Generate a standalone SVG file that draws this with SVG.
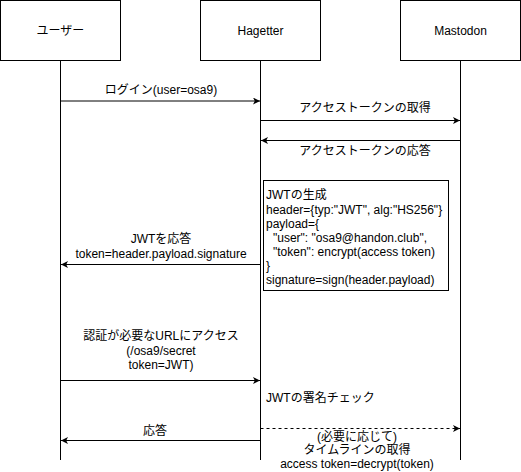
<svg xmlns="http://www.w3.org/2000/svg" width="521" height="472" viewBox="0 0 521 472">
<defs>
<style>
text{font-family:"Liberation Sans","Noto Sans CJK JP",sans-serif;font-size:12px;fill:#000}
.c{text-anchor:middle}
.box{fill:#fff;stroke:#000;stroke-width:1}
.life{stroke:#000;stroke-width:1;fill:none}
.msg{stroke:#000;stroke-width:1;fill:none;marker-end:url(#ah)}
.dash{stroke-dasharray:3 3}
</style>
<marker id="ah" markerWidth="8" markerHeight="8" refX="7" refY="3.5" orient="auto" markerUnits="userSpaceOnUse">
<path d="M0,0 L7,3.5 L0,7 L1.8,3.5 z" fill="#000"/>
</marker>
</defs>
<g id="user">
<rect class="box" x="0.5" y="0.5" width="120" height="60"/>
<text class="c" x="60.5" y="35">ユーザー</text>
<line class="life" x1="60.5" y1="60.5" x2="60.5" y2="460"/>
</g>
<g id="hagetter">
<rect class="box" x="200.5" y="0.5" width="120" height="60"/>
<text class="c" x="260.5" y="35">Hagetter</text>
<line class="life" x1="260.5" y1="60.5" x2="260.5" y2="460"/>
</g>
<g id="mastodon">
<rect class="box" x="400.5" y="0.5" width="120" height="60"/>
<text class="c" x="460.5" y="35">Mastodon</text>
<line class="life" x1="460.5" y1="60.5" x2="460.5" y2="460"/>
</g>
<g id="jwt-box">
<rect class="box" x="263.5" y="180.5" width="185" height="110"/>
<text x="266" y="199">JWTの生成</text>
<text x="266" y="213.5">header={typ:"JWT", alg:"HS256"}</text>
<text x="266" y="228">payload={</text>
<text x="273" y="242">"user": "osa9@handon.club",</text>
<text x="273" y="256">"token": encrypt(access token)</text>
<text x="266" y="270">}</text>
<text x="266" y="284">signature=sign(header.payload)</text>
</g>
<g id="connectors">
<line class="msg" x1="60.5" y1="101" x2="260" y2="101"/>
<line class="msg" x1="260.5" y1="120.5" x2="460" y2="120.5"/>
<line class="msg" x1="460.5" y1="140.5" x2="261" y2="140.5"/>
<line class="msg" x1="260.5" y1="264.5" x2="61" y2="264.5"/>
<line class="msg" x1="60.5" y1="380.5" x2="260" y2="380.5"/>
<line class="msg dash" x1="260.5" y1="428.5" x2="460" y2="428.5"/>
<line class="msg" x1="260.5" y1="440.5" x2="61" y2="440.5"/>
</g>
<g id="labels">
<text class="c" x="161" y="94">ログイン(user=osa9)</text>
<text class="c" x="365" y="112">アクセストークンの取得</text>
<text class="c" x="365" y="155">アクセストークンの応答</text>
<text class="c" x="161" y="243">JWTを応答</text>
<text class="c" x="161" y="258">token=header.payload.signature</text>
<text class="c" x="161" y="340">認証が必要なURLにアクセス</text>
<text class="c" x="161" y="355">(/osa9/secret</text>
<text class="c" x="161" y="369">token=JWT)</text>
<text x="266" y="402">JWTの署名チェック</text>
<text class="c" x="155" y="435">応答</text>
<text class="c" x="357" y="441">(必要に応じて)</text>
<text class="c" x="357" y="454">タイムラインの取得</text>
<text class="c" x="357" y="468">access token=decrypt(token)</text>
</g>
</svg>
